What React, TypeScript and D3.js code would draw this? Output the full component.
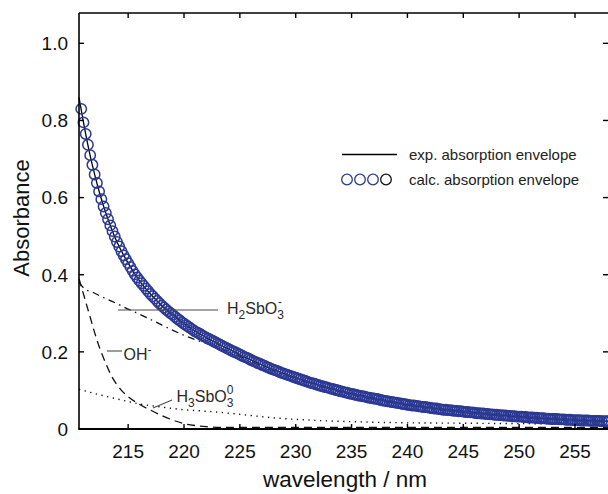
import React from "react";
import * as d3 from "d3";

// ---------- data ----------
// calculated absorption envelope, sampled every 0.2 nm from 210.8 nm to 258.0 nm
const CALC_WL = d3.range(2108, 2581, 2).map((d) => d / 10);
const CALC_ABS = [
  0.830, 0.795, 0.765, 0.737, 0.710,
  0.685, 0.660, 0.638, 0.616, 0.596,
  0.577, 0.560, 0.544, 0.528, 0.513,
  0.499, 0.485, 0.473, 0.461, 0.450,
  0.440, 0.430, 0.420, 0.410, 0.401,
  0.393, 0.385, 0.378, 0.371, 0.364,
  0.357, 0.350, 0.344, 0.338, 0.332,
  0.326, 0.320, 0.315, 0.310, 0.305,
  0.300, 0.296, 0.291, 0.286, 0.282,
  0.277, 0.273, 0.269, 0.265, 0.261,
  0.257, 0.253, 0.250, 0.247, 0.243,
  0.240, 0.237, 0.234, 0.231, 0.228,
  0.225, 0.222, 0.219, 0.216, 0.213,
  0.210, 0.207, 0.204, 0.201, 0.199,
  0.196, 0.193, 0.190, 0.187, 0.185,
  0.182, 0.179, 0.176, 0.174, 0.171,
  0.169, 0.166, 0.164, 0.161, 0.159,
  0.156, 0.154, 0.152, 0.150, 0.147,
  0.145, 0.143, 0.141, 0.139, 0.137,
  0.135, 0.133, 0.131, 0.129, 0.127,
  0.125, 0.123, 0.121, 0.119, 0.118,
  0.116, 0.114, 0.112, 0.111, 0.109,
  0.108, 0.106, 0.104, 0.103, 0.101,
  0.100, 0.098, 0.097, 0.095, 0.094,
  0.092, 0.091, 0.090, 0.088, 0.087,
  0.086, 0.085, 0.084, 0.082, 0.081,
  0.080, 0.079, 0.078, 0.077, 0.075,
  0.074, 0.073, 0.072, 0.071, 0.070,
  0.069, 0.068, 0.067, 0.066, 0.065,
  0.064, 0.063, 0.062, 0.061, 0.061,
  0.060, 0.059, 0.058, 0.057, 0.057,
  0.056, 0.055, 0.054, 0.053, 0.053,
  0.052, 0.051, 0.050, 0.050, 0.049,
  0.049, 0.048, 0.047, 0.047, 0.046,
  0.046, 0.045, 0.044, 0.044, 0.043,
  0.043, 0.042, 0.041, 0.041, 0.040,
  0.040, 0.039, 0.039, 0.038, 0.038,
  0.037, 0.037, 0.036, 0.036, 0.035,
  0.035, 0.034, 0.034, 0.033, 0.033,
  0.032, 0.032, 0.032, 0.031, 0.031,
  0.030, 0.030, 0.030, 0.029, 0.029,
  0.028, 0.028, 0.028, 0.027, 0.027,
  0.026, 0.026, 0.026, 0.026, 0.025,
  0.025, 0.025, 0.024, 0.024, 0.024,
  0.023, 0.023, 0.023, 0.023, 0.022,
  0.022, 0.022, 0.022, 0.021, 0.021,
  0.021, 0.021, 0.021, 0.020, 0.020,
  0.020, 0.020,
];

// experimental absorption envelope
const EXP_WL = [210.6, 211, 211.5, 212, 212.5, 213, 213.5, 214, 215, 216, 217, 218, 219, 220, 222, 224, 226, 228, 230, 233, 236, 240, 245, 250, 255, 258];
const EXP_ABS = [0.86, 0.795, 0.722, 0.66, 0.606, 0.56, 0.52, 0.485, 0.43, 0.385, 0.35, 0.32, 0.296, 0.273, 0.237, 0.207, 0.179, 0.154, 0.133, 0.106, 0.085, 0.063, 0.045, 0.032, 0.023, 0.02];

// species contributions
const H2SBO3_WL = [210.6, 211, 212, 213, 214, 215, 216, 217, 218, 219, 220, 221, 222, 223, 224, 225, 226, 228, 230, 232, 235, 240, 245, 250, 255, 258];
const H2SBO3_ABS = [0.38, 0.366, 0.352, 0.338, 0.325, 0.311, 0.298, 0.284, 0.27, 0.256, 0.243, 0.232, 0.222, 0.212, 0.201, 0.189, 0.175, 0.151, 0.13, 0.112, 0.089, 0.062, 0.044, 0.031, 0.022, 0.019];

const OH_WL = [210.6, 211, 211.5, 212, 212.5, 213, 213.5, 214, 214.5, 215, 216, 217, 218, 219, 220, 221, 222, 224, 226, 230, 240, 250, 258];
const OH_ABS = [0.39, 0.35, 0.3, 0.25, 0.206, 0.17, 0.138, 0.115, 0.097, 0.084, 0.064, 0.049, 0.035, 0.023, 0.014, 0.009, 0.006, 0.004, 0.004, 0.004, 0.004, 0.004, 0.004];

const H3SBO3_WL = [210.6, 212, 214, 216, 218, 220, 222, 224, 226, 228, 230, 232, 235, 240, 245, 250, 258];
const H3SBO3_ABS = [0.103, 0.092, 0.078, 0.065, 0.057, 0.05, 0.046, 0.041, 0.035, 0.029, 0.025, 0.022, 0.019, 0.016, 0.015, 0.014, 0.013];

const X_TICKS = [215, 220, 225, 230, 235, 240, 245, 250, 255];
const Y_TICKS = [0, 0.2, 0.4, 0.6, 0.8, 1.0];
const Y_TICK_LABELS = ["0", "0.2", "0.4", "0.6", "0.8", "1.0"];

const X_TITLE = "wavelength / nm";
const Y_TITLE = "Absorbance";
const LEGEND_EXP = "exp. absorption envelope";
const LEGEND_CALC = "calc. absorption envelope";

// ---------- layout ----------
const W = 608;
const H = 494;
const L = 79;
const R = 608.5;
const T = 13;
const B = 429;
const BLUE = "#2b3994";
const FONT = "'Liberation Sans', Arial, Helvetica, sans-serif";

export default function App() {
  const x = d3.scaleLinear().domain([210.6, 258]).range([L, R]);
  const y = d3.scaleLinear().domain([0, 1.0786]).range([B, T]);

  const mk = (wl: number[], v: number[]) =>
    d3
      .line<number>()
      .x((_, i) => x(wl[i]))
      .y((d) => y(d))
      .curve(d3.curveMonotoneX)(v.slice(0, wl.length)) || "";

  const n = Math.min(CALC_WL.length, CALC_ABS.length);
  const calcPts = d3.range(n).map((i) => [x(CALC_WL[i]), y(CALC_ABS[i])]);

  const tickLen = 5;
  const labelColor = "#2a2a2a";
  const pointerColor = "#4a4a4a";

  return (
    <svg
      width={W}
      height={H}
      viewBox={`0 0 ${W} ${H}`}
      style={{ position: "absolute", left: 0, top: 0, background: "#fff" }}
      fontFamily={FONT}
    >
      <rect x={0} y={0} width={W} height={H} fill="#fff" />

      {/* species curves */}
      <path d={mk(H2SBO3_WL, H2SBO3_ABS)} fill="none" stroke="#111" strokeWidth={1.3} strokeDasharray="7,4.5,1.5,4.5" />
      <path d={mk(OH_WL, OH_ABS)} fill="none" stroke="#111" strokeWidth={1.3} strokeDasharray="8,5" />
      <path d={mk(H3SBO3_WL, H3SBO3_ABS)} fill="none" stroke="#111" strokeWidth={1.4} strokeDasharray="1.3,4.5" />

      {/* experimental envelope */}
      <path d={mk(EXP_WL, EXP_ABS)} fill="none" stroke="#000" strokeWidth={1.3} />

      {/* calculated envelope circles */}
      {calcPts.map(([cx, cy], i) => (
        <circle key={i} cx={cx} cy={cy} r={5.2} fill="none" stroke={BLUE} strokeWidth={1.5} />
      ))}

      {/* frame (right spine lies just outside the picture) */}
      <line x1={L} x2={L} y1={T} y2={B} stroke="#000" strokeWidth={1.6} />
      <line x1={L} x2={R} y1={T} y2={T} stroke="#000" strokeWidth={1.6} />
      <line x1={L - 0.8} x2={R} y1={B} y2={B} stroke="#000" strokeWidth={2.2} />

      {/* x ticks */}
      {X_TICKS.map((t) => (
        <g key={"x" + t}>
          <line x1={x(t)} x2={x(t)} y1={B} y2={B - tickLen} stroke="#000" strokeWidth={1.4} />
          <line x1={x(t)} x2={x(t)} y1={T} y2={T + tickLen} stroke="#000" strokeWidth={1.4} />
          <text x={x(t)} y={458} textAnchor="middle" fontSize={19} fill="#111">
            {t}
          </text>
        </g>
      ))}

      {/* y ticks */}
      {Y_TICKS.map((t, i) => (
        <g key={"y" + t}>
          <line x1={L} x2={L + tickLen} y1={y(t)} y2={y(t)} stroke="#000" strokeWidth={1.4} />
          <line x1={R - tickLen - 0.5} x2={R} y1={y(t)} y2={y(t)} stroke="#000" strokeWidth={1.4} />
          <text x={68} y={y(t) + 6.8} textAnchor="end" fontSize={19} fill="#111">
            {Y_TICK_LABELS[i]}
          </text>
        </g>
      ))}

      {/* axis titles */}
      <text x={345} y={487} textAnchor="middle" fontSize={22.5} fill="#111">
        {X_TITLE}
      </text>
      <text
        transform={`translate(29,218) rotate(-90)`}
        textAnchor="middle"
        fontSize={22}
        fill="#111"
      >
        {Y_TITLE}
      </text>

      {/* legend */}
      <line x1={342} x2={397} y1={154.5} y2={154.5} stroke="#000" strokeWidth={1.3} />
      <text x={409} y={160} fontSize={15} fill="#222">
        {LEGEND_EXP}
      </text>
      {[347, 360, 373].map((cx) => (
        <circle key={cx} cx={cx} cy={179.5} r={5.3} fill="none" stroke={BLUE} strokeWidth={1.3} />
      ))}
      <circle cx={386} cy={179.5} r={5.3} fill="none" stroke="#111" strokeWidth={1.3} />
      <text x={409} y={184.5} fontSize={15} fill="#222">
        {LEGEND_CALC}
      </text>

      {/* species labels */}
      <line x1={118} x2={218} y1={310} y2={310} stroke={pointerColor} strokeWidth={1.1} />
      <text x={227} y={313.5} fontSize={16} fill={labelColor}>
        <tspan>H</tspan>
        <tspan fontSize={12} dy={5}>2</tspan>
        <tspan dy={-5}>SbO</tspan>
        <tspan fontSize={12} dy={5}>3</tspan>
        <tspan fontSize={12} dx={-6} dy={-13}>-</tspan>
      </text>

      <line x1={107} x2={122} y1={351} y2={351} stroke={pointerColor} strokeWidth={1.1} />
      <text x={123.5} y={360} fontSize={16} fill={labelColor}>
        <tspan>OH</tspan>
        <tspan fontSize={12} dy={-6}>-</tspan>
      </text>

      <line x1={153} x2={172} y1={408} y2={400} stroke={pointerColor} strokeWidth={1.1} />
      <text x={176.5} y={401.5} fontSize={16} fill={labelColor}>
        <tspan>H</tspan>
        <tspan fontSize={12} dy={5}>3</tspan>
        <tspan dy={-5}>SbO</tspan>
        <tspan fontSize={12} dy={5}>3</tspan>
        <tspan fontSize={12} dx={-6.7} dy={-12.5}>0</tspan>
      </text>
    </svg>
  );
}
